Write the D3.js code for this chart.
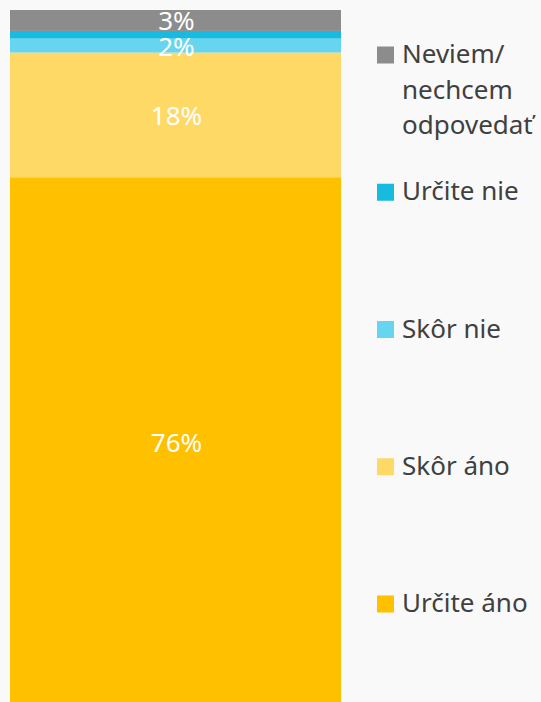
<!DOCTYPE html>
<html><head><meta charset="utf-8">
<script src="https://cdn.jsdelivr.net/npm/d3@7"></script>
<style>html,body{margin:0;padding:0;background:#f9f9f9;overflow:hidden}</style>
</head><body>
<svg id="c" width="541" height="702"></svg>
<script>
const categories = ["Určite áno", "Skôr áno", "Skôr nie", "Určite nie", "Neviem/ nechcem odpovedať"];
const values = [76, 17.9, 2, 1.1, 3];
const labels = ["76%", "18%", "2%", "", "3%"];
const colors = ["#ffc000", "#ffd966", "#68d5f0", "#17bbe0", "#8c8c8c"];
const legendLines = [["Neviem/", "nechcem", "odpovedať"], ["Určite nie"], ["Skôr nie"], ["Skôr áno"], ["Určite áno"]];
const legendColors = ["#8c8c8c", "#17bbe0", "#68d5f0", "#ffd966", "#ffc000"];

const svg = d3.select("#c");
const font = "'Noto Sans', 'Open Sans', sans-serif";
const y = d3.scaleLinear().domain([0, 100]).range([707, 10]);
const x = d3.scaleBand().domain(["all"]).range([10, 341]).padding(0);

let acc = 0;
const stacked = values.map((v, i) => { const s = {v, y0: acc, y1: acc + v, i}; acc += v; return s; });

svg.selectAll("rect.bar").data(stacked).join("rect")
  .attr("x", x("all")).attr("width", x.bandwidth())
  .attr("y", d => y(d.y1)).attr("height", d => y(d.y0) - y(d.y1))
  .attr("fill", d => colors[d.i]);

svg.selectAll("text.lbl").data(stacked).join("text")
  .attr("x", x("all") + x.bandwidth() / 2 + 1)
  .attr("y", d => (y(d.y0) + y(d.y1)) / 2 + 10)
  .attr("text-anchor", "middle")
  .attr("font-family", font).attr("font-size", 26)
  .attr("fill", "#fff")
  .text(d => labels[d.i]);

const ly = d3.scalePoint().domain(d3.range(5)).range([55, 604]);
const lg = svg.selectAll("g.leg").data(legendLines).join("g")
  .attr("transform", (d, i) => `translate(377,${ly(i)})`);
lg.append("rect").attr("x", 0).attr("y", -8.5).attr("width", 17).attr("height", 17)
  .attr("fill", (d, i) => legendColors[i]);
lg.append("text").attr("font-family", font).attr("font-size", 26).attr("fill", "#404040")
  .selectAll("tspan").data(d => d).join("tspan")
  .attr("x", 25).attr("y", (d, j) => 8 + j * 35.5).text(d => d);
</script>
</body></html>
